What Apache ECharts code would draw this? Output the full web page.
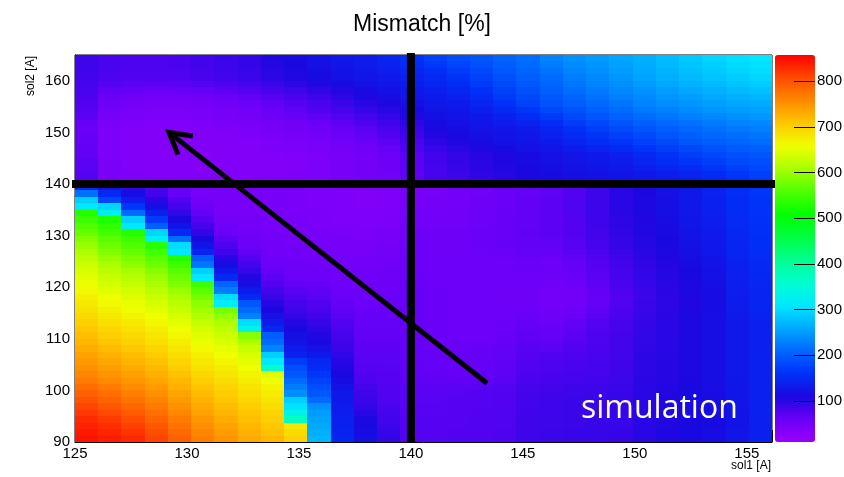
<!DOCTYPE html>
<html>
<head>
<meta charset="utf-8">
<script src="https://cdn.jsdelivr.net/npm/echarts@6/dist/echarts.min.js"></script>
<style>
  html, body { margin: 0; padding: 0; background: #fff; }
  #chart { width: 844px; height: 477px; }
</style>
</head>
<body>
<div id="chart"></div>
<script>
// Scan ranges: sol1 [A] (30 bins) and sol2 [A] (60 bins)
const sol1Range = [125, 156.125];
const sol2Range = [90, 165];
const zRange = [10, 857];
const colorbarTicks = [100, 200, 300, 400, 500, 600, 700, 800];

// Reference working point (sol1, sol2) and the arrow drawn over the map
const workingPoint = [140, 140];
const arrowFrom = [143.4, 101.4];
const arrowTo = [129.2, 150.0];

// Mismatch [%] per sol2 bin, lowest sol2 first; each row holds the 30 sol1 bins
const mismatch = [
  [845,838,830,812,790,766,750,732,720,698,270,145,118,95, 73,73,74,75,77,87,89,91,92,93,101,106,111,115,126,138],
  [840,832,822,805,783,760,744,727,714,690,265,142,115,92, 73,73,74,75,77,87,89,91,92,93,101,106,111,115,126,138],
  [835,826,814,797,776,753,738,721,708,680,260,140,112,88, 72,72,73,74,76,86,88,90,91,92,100,105,110,114,125,138],
  [828,818,805,788,768,746,731,715,702,370,255,138,108,85, 72,72,73,74,76,86,88,90,91,92,100,105,110,114,125,138],
  [820,808,795,779,760,739,724,709,696,330,250,136,100,82, 71,71,73,74,76,86,88,90,91,92,100,105,111,115,125,139],
  [810,798,785,770,752,732,717,702,689,305,240,133,95,80, 71,71,72,73,75,85,87,89,90,92,100,106,112,116,126,140],
  [800,788,775,761,744,725,710,695,682,290,210,130,90,76, 70,70,72,73,75,85,87,89,90,92,100,106,112,116,126,140],
  [790,778,765,752,736,718,703,688,675,240,195,128,86,75, 70,70,71,72,74,84,86,88,89,91,100,105,111,116,126,140],
  [780,768,756,744,728,710,696,681,667,225,185,120,82,74, 68,68,69,70,72,82,84,86,87,90,99,104,110,117,127,140],
  [770,758,748,736,720,702,689,674,658,210,175,115,78,73, 66,66,66,67,70,79,81,83,85,88,99,103,109,117,127,140],
  [760,750,740,728,712,694,682,667,645,195,165,110,75,72, 65,64,63,64,67,77,79,81,83,87,98,102,108,118,128,140],
  [752,742,732,720,704,686,674,659,360,185,155,105,72,71, 64,63,62,63,66,76,78,80,82,86,98,102,108,118,128,140],
  [745,734,724,712,696,678,666,650,310,170,148,100,71,70, 64,63,62,63,66,75,77,79,81,86,98,102,108,118,128,140],
  [738,726,716,704,688,670,658,640,290,140,130,95,70,69, 63,62,61,62,65,73,74,77,80,85,97,101,108,118,128,139],
  [730,718,708,696,680,662,650,628,230,132,120,90,68,68, 63,61,60,61,64,71,70,74,79,85,96,101,108,118,128,139],
  [722,710,700,688,672,654,641,612,210,125,112,86,66,66, 62,60,59,59,62,68,66,71,78,84,95,100,108,118,128,138],
  [715,702,692,680,664,646,632,590,200,118,105,82,65,65, 62,60,58,58,61,66,63,69,77,84,95,100,108,118,128,138],
  [708,694,684,672,656,636,622,330,150,110,98,78,64,64, 62,60,58,58,60,64,61,67,76,83,94,100,108,118,129,139],
  [700,686,676,664,648,626,610,300,135,102,92,74,63,63, 62,60,58,58,59,62,58,64,73,82,93,99,107,117,130,140],
  [692,678,668,656,640,615,596,230,122,95,86,70,62,62, 62,60,58,58,58,60,55,60,70,80,92,99,107,117,131,142],
  [685,670,660,648,630,604,580,210,110,88,80,66,60,62, 62,60,58,57,57,57,52,56,66,78,90,98,106,116,133,143],
  [678,662,652,640,620,592,320,195,100,82,75,62,58,60, 62,60,58,57,56,55,50,53,63,76,89,98,106,115,134,144],
  [670,654,644,630,610,578,300,150,90,76,70,60,57,59, 62,60,58,57,56,55,50,52,62,75,88,98,106,115,135,145],
  [662,646,636,620,598,562,225,132,82,70,66,58,56,58, 61,59,58,57,56,56,51,54,64,77,90,99,107,116,136,146],
  [655,638,628,610,586,545,205,118,75,65,62,56,55,57, 61,59,57,57,57,57,53,57,67,80,92,100,108,118,137,147],
  [648,630,618,600,574,310,150,105,68,60,58,54,54,56, 60,58,57,57,57,58,55,59,69,82,94,102,110,120,138,148],
  [640,620,606,588,560,290,130,92,62,58,56,52,52,55, 60,58,57,57,58,59,57,61,71,83,95,103,111,121,139,149],
  [632,610,594,575,546,220,115,82,58,56,54,50,50,54, 60,58,57,57,58,60,58,62,72,84,96,104,112,122,140,150],
  [622,598,582,562,530,200,100,72,56,54,52,48,48,52, 59,57,57,58,59,61,60,65,75,87,98,106,115,125,142,152],
  [612,586,570,548,310,145,88,65,54,52,50,47,47,50, 58,57,56,58,60,63,63,68,78,90,100,108,118,128,144,154],
  [598,574,558,532,300,125,78,58,52,50,48,46,45,48, 57,56,56,59,61,64,65,71,81,93,102,110,121,130,146,156],
  [585,562,545,320,215,110,68,55,50,48,46,44,43,46, 56,55,56,59,62,65,67,73,84,95,103,111,123,131,147,157],
  [570,550,530,295,150,95,60,52,48,46,44,42,41,44, 55,55,56,60,63,66,68,74,85,96,104,112,125,132,148,158],
  [558,538,310,200,125,82,55,50,47,45,43,41,40,42, 52,53,54,58,62,65,68,75,86,97,105,114,126,134,150,159],
  [545,525,290,170,110,72,50,48,46,44,42,40,39,41, 50,52,53,57,61,65,68,75,87,98,106,116,127,136,152,160],
  [530,320,210,140,95,62,47,46,45,43,41,39,38,40, 48,50,52,56,61,64,68,76,88,99,107,117,128,138,153,161],
  [310,295,165,118,82,55,45,45,44,42,40,38,37,39, 46,49,51,55,60,64,68,76,88,100,108,118,128,140,155,162],
  [290,180,135,100,72,50,45,45,44,42,40,38,37,39, 45,48,50,55,60,64,68,76,88,100,108,118,128,140,155,162],
  [215,150,115,85,62,46,45,45,44,42,40,38,37,39, 44,47,50,54,59,63,67,75,87,100,109,119,129,141,156,163],
  [150,120,95,75,55,44,45,45,44,42,40,38,37,39, 43,46,49,54,59,63,67,75,87,100,110,120,130,142,157,165],
  [75,45,40,38,36,35,35,35,36,38,40,44,48,54, 66,80,88,95,102,108,112,116,118,122,126,130,135,145,158,168],
  [72,43,38,36,35,34,34,35,36,38,40,44,48,54, 67,81,90,97,103,109,113,118,121,125,130,136,143,153,165,174],
  [70,42,37,35,34,33,34,34,35,37,40,44,48,55, 68,83,92,99,105,111,116,121,125,129,136,145,153,163,173,181],
  [68,41,37,35,34,33,34,34,35,37,40,44,49,56, 69,84,93,100,106,112,118,123,128,133,143,154,163,173,181,187],
  [65,40,36,34,33,33,34,35,36,38,41,45,50,57, 70,85,95,102,108,114,120,126,130,138,150,162,172,182,188,192],
  [64,40,36,34,34,34,35,36,38,40,43,48,54,62, 75,92,101,108,114,119,126,134,142,151,162,172,182,191,197,202],
  [62,40,36,35,34,35,36,37,40,43,47,53,60,68, 80,98,106,113,119,124,132,143,154,164,174,183,192,200,206,212],
  [61,40,36,35,35,35,37,38,42,46,50,57,65,74, 86,104,111,118,123,128,138,152,163,174,183,192,200,208,214,220],
  [60,40,36,35,35,36,38,40,44,48,54,62,70,80, 92,110,116,122,127,132,145,160,172,183,192,200,208,216,222,228],
  [63,43,39,37,37,38,41,44,49,54,60,68,77,87, 98,114,120,126,133,142,156,170,182,193,202,210,217,225,231,236],
  [68,47,42,40,40,41,44,48,55,61,67,75,84,94, 104,118,123,130,140,153,168,181,192,203,212,220,227,235,241,246],
  [72,51,45,43,43,44,48,53,60,66,74,83,92,101, 111,123,127,137,150,164,179,191,201,212,221,229,236,244,250,254],
  [75,55,48,46,46,48,52,58,65,72,80,90,100,108, 118,128,132,145,160,175,190,200,210,220,230,238,245,252,258,262],
  [78,60,55,53,53,55,60,65,73,80,88,98,108,116, 124,132,140,152,168,182,196,207,217,227,236,245,252,259,265,270],
  [80,66,62,60,61,63,68,73,81,88,96,105,114,121, 128,137,148,160,175,189,202,214,224,234,243,252,259,266,273,279],
  [83,72,69,68,69,72,77,82,90,97,105,112,120,126, 134,144,155,168,182,195,207,220,230,240,249,258,266,273,281,288],
  [85,78,75,75,76,80,85,90,98,105,113,120,126,131, 140,150,162,175,188,200,212,225,235,245,255,265,272,280,288,295],
  [86,79,77,77,78,82,87,92,100,108,116,123,129,136, 147,158,170,182,194,205,219,231,240,250,259,268,277,285,293,300],
  [87,80,78,78,79,84,88,94,103,110,119,126,133,141, 154,167,178,189,200,210,226,237,245,254,262,272,281,290,298,304],
  [88,80,78,78,80,85,90,95,105,112,120,128,135,145, 160,175,185,195,205,215,232,242,250,258,265,275,285,295,302,308]
];

// Bin geometry follows from the ranges and the table shape
const nBins1 = mismatch[0].length;
const nBins2 = mismatch.length;
const bin1 = (sol1Range[1] - sol1Range[0]) / nBins1;
const bin2 = (sol2Range[1] - sol2Range[0]) / nBins2;

const cells = [];
mismatch.forEach((row, j) => {
  row.forEach((v, i) => {
    cells.push([sol1Range[0] + i * bin1, sol2Range[0] + j * bin2, v]);
  });
});

// Rainbow palette (violet -> blue -> cyan -> green -> yellow -> red)
const palette = [
  '#9a00f8', '#6a00f8', '#1a08e0', '#0030f8', '#0068ff', '#00a8ff',
  '#00e8ff', '#00ffd0', '#00ff90', '#00ff40', '#00ff00', '#50ff00',
  '#a8ff00', '#f0ff00', '#ffc800', '#ff8a00', '#ff4a00', '#ff0000'
];

const FONT = '"Liberation Sans", Arial, Helvetica, sans-serif';

function renderCell(params, api) {
  const x0 = api.value(0);
  const y0 = api.value(1);
  const a = api.coord([x0, y0 + bin2]);
  const b = api.coord([x0 + bin1, y0]);
  const l = Math.round(a[0]), t = Math.round(a[1]);
  const r = Math.round(b[0]), btm = Math.round(b[1]);
  return {
    type: 'rect',
    shape: { x: l, y: t, width: r - l, height: btm - t },
    style: { fill: api.visual('color') }
  };
}

// Colour-scale ticks: short strokes entering the bar from its right edge
function renderScaleTick(params, api) {
  const p = api.coord([1, api.value(1)]);
  const y = Math.round(p[1]) + 0.5;
  return {
    type: 'line',
    shape: { x1: p[0], y1: y, x2: p[0] - 21, y2: y },
    style: { stroke: '#000', lineWidth: 1 }
  };
}

function renderOverlay(params, api) {
  const h0 = api.coord([sol1Range[0], workingPoint[1]]);
  const h1 = api.coord([sol1Range[1], workingPoint[1]]);
  const v0 = api.coord([workingPoint[0], sol2Range[0]]);
  const v1 = api.coord([workingPoint[0], sol2Range[1]]);
  const tail = api.coord(arrowFrom);
  const tip = api.coord(arrowTo);
  const ang = Math.atan2(tail[1] - tip[1], tail[0] - tip[0]);
  const arm = 24, spread = 0.52;
  const w1 = [tip[0] + arm * Math.cos(ang - spread), tip[1] + arm * Math.sin(ang - spread)];
  const w2 = [tip[0] + arm * Math.cos(ang + spread), tip[1] + arm * Math.sin(ang + spread)];
  return {
    type: 'group',
    children: [
      { type: 'line', shape: { x1: h0[0] - 3, y1: h0[1], x2: h1[0] + 3, y2: h1[1] },
        style: { stroke: '#000', lineWidth: 8 } },
      { type: 'line', shape: { x1: v0[0], y1: v0[1], x2: v1[0], y2: v1[1] - 2 },
        style: { stroke: '#000', lineWidth: 8 } },
      { type: 'line', shape: { x1: tail[0], y1: tail[1], x2: tip[0] + 2 * Math.cos(ang), y2: tip[1] + 2 * Math.sin(ang) },
        style: { stroke: '#000', lineWidth: 5 } },
      { type: 'polyline', shape: { points: [w1, tip, w2] },
        style: { stroke: '#000', lineWidth: 5, fill: null, lineJoin: 'miter' } }
    ]
  };
}

const chart = echarts.init(document.getElementById('chart'), null, { renderer: 'canvas' });

chart.setOption({
  animation: false,
  backgroundColor: '#ffffff',
  title: {
    text: 'Mismatch [%]',
    left: 'center',
    top: 8,
    textStyle: { fontFamily: FONT, fontSize: 23, fontWeight: 'normal', color: '#000' }
  },
  grid: [
    { left: 75, right: 72, top: 55, bottom: 35, outerBoundsMode: 'none',
      show: true, borderColor: '#000', borderWidth: 1, backgroundColor: 'transparent' },
    { left: 775, width: 40, top: 55, bottom: 35, outerBoundsMode: 'none' }
  ],
  xAxis: [
    {
      type: 'value', gridIndex: 0, min: sol1Range[0], max: sol1Range[1], interval: 5,
      axisLine: { show: true, lineStyle: { color: '#000', width: 1 } },
      axisTick: { show: true, inside: true, length: 12, lineStyle: { color: '#000' } },
      minorTick: { show: true, splitNumber: 5, length: 6, lineStyle: { color: '#000' } },
      axisLabel: { fontFamily: FONT, fontSize: 15, color: '#000', margin: 4, showMaxLabel: false },
      splitLine: { show: false }
    },
    { type: 'value', gridIndex: 1, show: false, min: 0, max: 1 }
  ],
  yAxis: [
    {
      type: 'value', gridIndex: 0, min: sol2Range[0], max: sol2Range[1], interval: 10,
      axisLine: { show: true, lineStyle: { color: '#000', width: 1 } },
      axisTick: { show: true, inside: true, length: 22, lineStyle: { color: '#000' } },
      minorTick: { show: true, splitNumber: 5, length: 10, lineStyle: { color: '#000' } },
      axisLabel: { fontFamily: FONT, fontSize: 15, color: '#000', margin: 5, showMaxLabel: false },
      splitLine: { show: false }
    },
    {
      type: 'value', gridIndex: 1, position: 'right', min: zRange[0], max: zRange[1],
      axisLine: { show: false },
      axisTick: { show: false },
      axisLabel: { fontFamily: FONT, fontSize: 15, color: '#000', margin: 2, customValues: colorbarTicks },
      splitLine: { show: false }
    }
  ],
  visualMap: {
    type: 'continuous',
    min: zRange[0], max: zRange[1],
    dimension: 2,
    seriesIndex: 0,
    orient: 'vertical',
    left: 775, top: 55,
    itemWidth: 40, itemHeight: 387,
    padding: 0,
    calculable: false,
    hoverLink: false,
    text: null,
    z: 1,
    inRange: { color: palette }
  },
  graphic: [
    {
      type: 'text', x: 31, y: 56, rotation: Math.PI / 2,
      style: { text: 'sol2 [A]', fontFamily: FONT, fontSize: 12, fill: '#000', align: 'right', verticalAlign: 'middle' }
    },
    {
      type: 'text', x: 771, y: 466,
      style: { text: 'sol1 [A]', fontFamily: FONT, fontSize: 12, fill: '#000', align: 'right', verticalAlign: 'middle' }
    },
    {
      type: 'text', x: 581, y: 409, z: 100,
      style: { text: 'simulation', fontFamily: '"Open Sans", sans-serif', fontSize: 32, fill: '#ffffff', align: 'left', verticalAlign: 'middle' }
    }
  ],
  series: [
    {
      type: 'custom',
      name: 'mismatch',
      xAxisIndex: 0, yAxisIndex: 0,
      data: cells,
      encode: { x: 0, y: 1 },
      renderItem: renderCell,
      silent: true
    },
    {
      type: 'custom',
      name: 'overlay',
      xAxisIndex: 0, yAxisIndex: 0,
      data: [[workingPoint[0], workingPoint[1]]],
      encode: { x: 0, y: 1 },
      renderItem: renderOverlay,
      clip: false,
      silent: true,
      z: 10
    },
    {
      type: 'custom',
      name: 'scale ticks',
      xAxisIndex: 1, yAxisIndex: 1,
      data: colorbarTicks.map(v => [1, v]),
      encode: { x: 0, y: 1 },
      renderItem: renderScaleTick,
      clip: false,
      silent: true,
      z: 20
    }
  ]
});
</script>
</body>
</html>
